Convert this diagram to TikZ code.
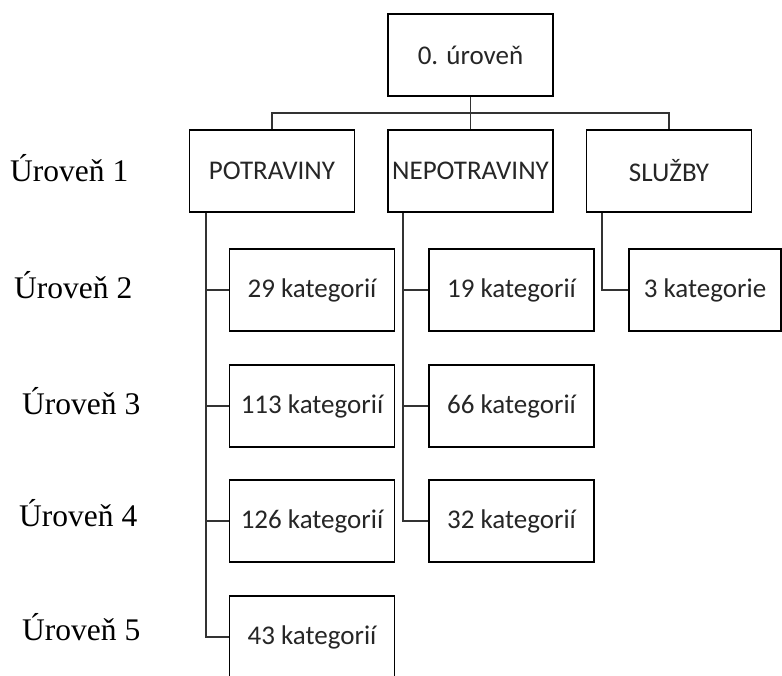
\documentclass[tikz,border=0pt]{standalone}
\usepackage{fontspec}
\newfontfamily\carlito{Carlito}
\newfontfamily\lserif{Liberation Serif}
\usetikzlibrary{calc}
\begin{document}
\begin{tikzpicture}[x=1pt,y=-1pt,
  box/.style={draw=black, line width=1.6pt, minimum width=165pt, minimum height=82pt,
    inner sep=0pt, font=\carlito\fontsize{27}{31}\selectfont, text=black!85},
  conn/.style={draw=black!80, line width=1.8pt},
  lvl/.style={anchor=base west, inner sep=0pt, font=\lserif\fontsize{31.5}{36}\selectfont}]
\useasboundingbox (0,0) rectangle (782,675);
\fill[white] (0,0) rectangle (782,675);
% boxes
\node[box] (top) at (470.5,55) {0. úroveň};
\node[box] (pot) at (272,171) {POTRAVINY};
\node[box] (nep) at (470.5,171) {NEPOTRAVINY};
\node[box] (slu) at (669,171) {SLUŽBY};
\node[box] (p2) at (312,290) {29 kategorií};
\node[box] (p3) at (312,406) {113 kategorií};
\node[box] (p4) at (312,521) {126 kategorií};
\node[box] (p5) at (312,637) {43 kategorií};
\node[box] (n2) at (511.5,290) {19 kategorií};
\node[box] (n3) at (511.5,406) {66 kategorií};
\node[box] (n4) at (511.5,521) {32 kategorií};
\node[box, minimum width=152pt] (s2) at (705,290) {3 kategorie};
% level labels
\node[lvl] (l1) at (10,181) {Úroveň 1};
\node[lvl] (l2) at (14,298) {Úroveň 2};
\node[lvl] (l3) at (22,414) {Úroveň 3};
\node[lvl] (l4) at (19,526) {Úroveň 4};
\node[lvl] (l5) at (22,640) {Úroveň 5};
% top connectors
\coordinate (bus) at (0,113);
\draw[conn] (top.south) -- (top.south |- bus);
\draw[conn] (pot.north) -- (pot.north |- bus) -- (slu.north |- bus) -- (slu.north);
\draw[conn] (nep.north) -- (nep.north |- bus);
% spines
\coordinate (pv) at ($(pot.south west)+(17,0)$);
\coordinate (nv) at ($(nep.south west)+(16,0)$);
\coordinate (sv) at ($(slu.south west)+(16,0)$);
\draw[conn] (pv) |- (p5.west);
\draw[conn] (pv |- p2.west) -- (p2.west);
\draw[conn] (pv |- p3.west) -- (p3.west);
\draw[conn] (pv |- p4.west) -- (p4.west);
\draw[conn] (nv) |- (n4.west);
\draw[conn] (nv |- n2.west) -- (n2.west);
\draw[conn] (nv |- n3.west) -- (n3.west);
\draw[conn] (sv) |- (s2.west);
\end{tikzpicture}
\end{document}
